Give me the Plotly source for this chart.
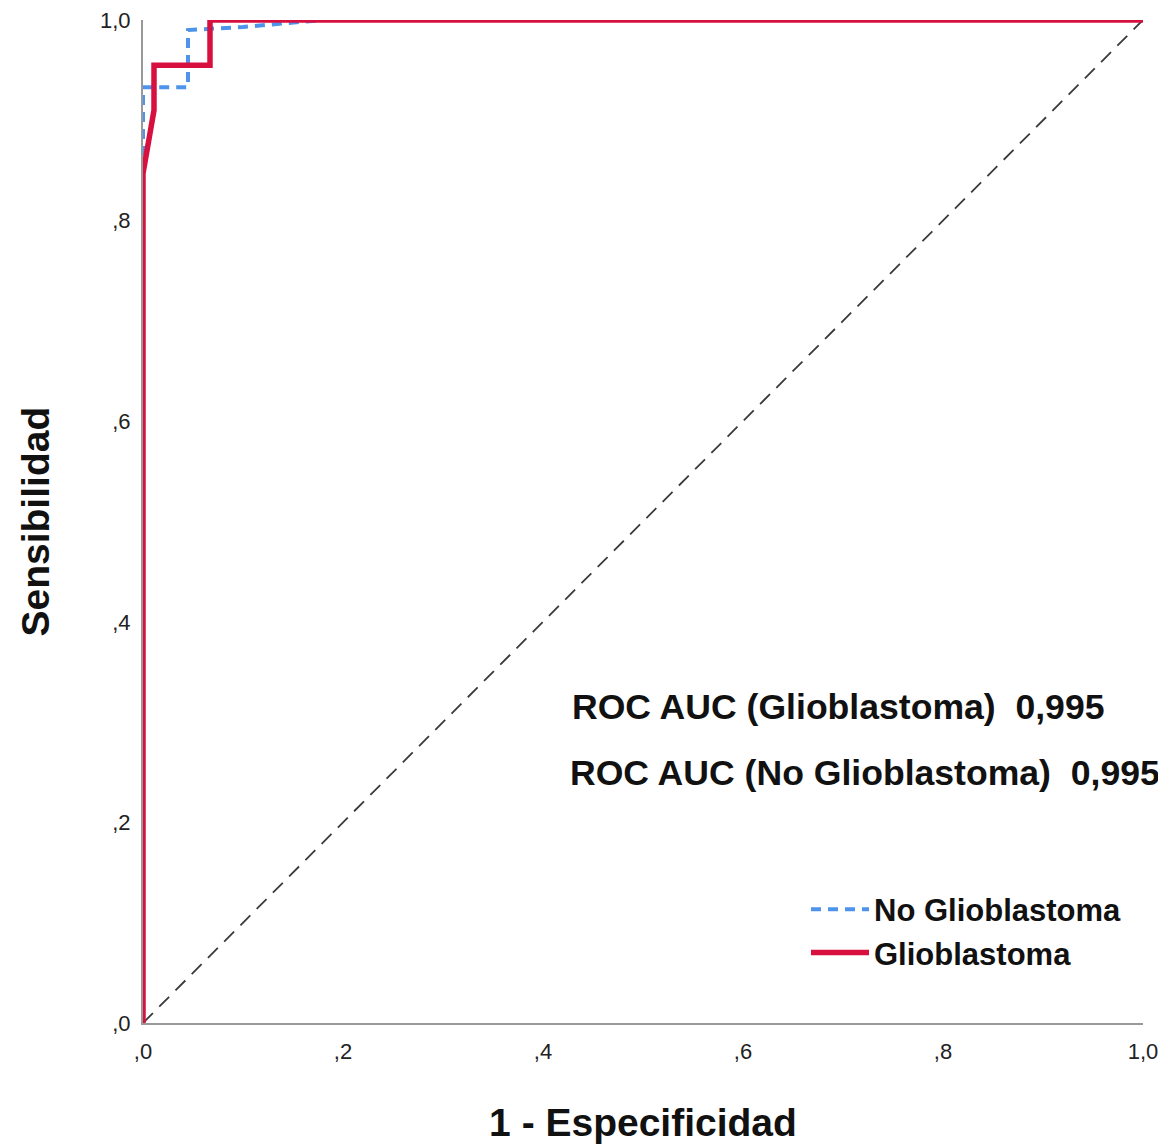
import plotly.graph_objects as go

# ROC curve points (1 - specificity, sensitivity)
fpr_no_gbm = [0.0, 0.0, 0.0, 0.045, 0.045, 0.10, 0.18, 1.0]
tpr_no_gbm = [0.0, 0.85, 0.933, 0.933, 0.99, 0.993, 1.0, 1.0]

fpr_gbm = [0.0, 0.0, 0.011, 0.011, 0.067, 0.067, 1.0]
tpr_gbm = [0.0, 0.847, 0.91, 0.955, 0.955, 1.0, 1.0]

ref_line = [0.0, 1.0]

tick_vals = [0.0, 0.2, 0.4, 0.6, 0.8, 1.0]
tick_text = [",0", ",2", ",4", ",6", ",8", "1,0"]

auc_labels = ["ROC AUC (Glioblastoma)\u00a0\u00a00,995",
              "ROC AUC (No Glioblastoma)\u00a0\u00a00,995"]

y_title = "Sensibilidad"
x_title = "1 - Especificidad"

FONT = "Liberation Sans, Arial, sans-serif"

fig = go.Figure()
fig.add_trace(go.Scatter(x=ref_line, y=ref_line, mode="lines",
                         line=dict(color="#3a3a3a", width=1.8, dash="14px,9px"),
                         showlegend=False, hoverinfo="skip"))
fig.add_trace(go.Scatter(x=fpr_no_gbm, y=tpr_no_gbm, mode="lines",
                         name="<b>No Glioblastoma</b>",
                         line=dict(color="#4d94ea", width=4, dash="10px,7px")))
fig.add_trace(go.Scatter(x=fpr_gbm, y=tpr_gbm, mode="lines",
                         name="<b>Glioblastoma</b>",
                         line=dict(color="#d7103f", width=5.5)))

annos = []
for i, txt in enumerate(auc_labels):
    annos.append(dict(x=[0.427, 0.425][i], y=[0.315, 0.249][i], xref="paper", yref="paper",
                      xanchor="left", yanchor="middle", showarrow=False,
                      text="<b>" + txt + "</b>",
                      font=dict(family=FONT, size=35.6, color="#111")))
# y-axis title as rotated annotation for exact placement
annos.append(dict(x=-0.108, y=0.5, xref="paper", yref="paper",
                  xanchor="center", yanchor="middle", showarrow=False,
                  textangle=-90, text="<b>" + y_title + "</b>",
                  font=dict(family=FONT, size=39, color="#111")))

fig.update_layout(
    width=1166, height=1144,
    margin=dict(l=135, r=31, t=12, b=129),
    plot_bgcolor="white", paper_bgcolor="white",
    font=dict(family=FONT, color="#222"),
    annotations=annos,
    legend=dict(x=0.663, y=0.140, xanchor="left", yanchor="top",
                font=dict(family=FONT, size=31, color="#111"),
                bgcolor="rgba(0,0,0,0)", tracegroupgap=0, itemwidth=58),
)
fig.update_xaxes(range=[0, 1], tickvals=tick_vals, ticktext=tick_text,
                 showgrid=False, zeroline=False, showline=True,
                 linecolor="#999", linewidth=2, ticks="", automargin=False,
                 ticklabelstandoff=8, ticklabeloverflow="allow",
                 tickfont=dict(size=22, color="#222"),
                 title=dict(text="<b>" + x_title + "</b>", font=dict(size=39, color="#111"),
                            standoff=45))
fig.update_yaxes(range=[0, 1], tickvals=tick_vals, ticktext=tick_text,
                 showgrid=False, zeroline=False, showline=True,
                 linecolor="#999", linewidth=2, ticks="", automargin=False,
                 ticklabelstandoff=6, ticklabeloverflow="allow",
                 tickfont=dict(size=22, color="#222"))

fig.write_html("out.html")
